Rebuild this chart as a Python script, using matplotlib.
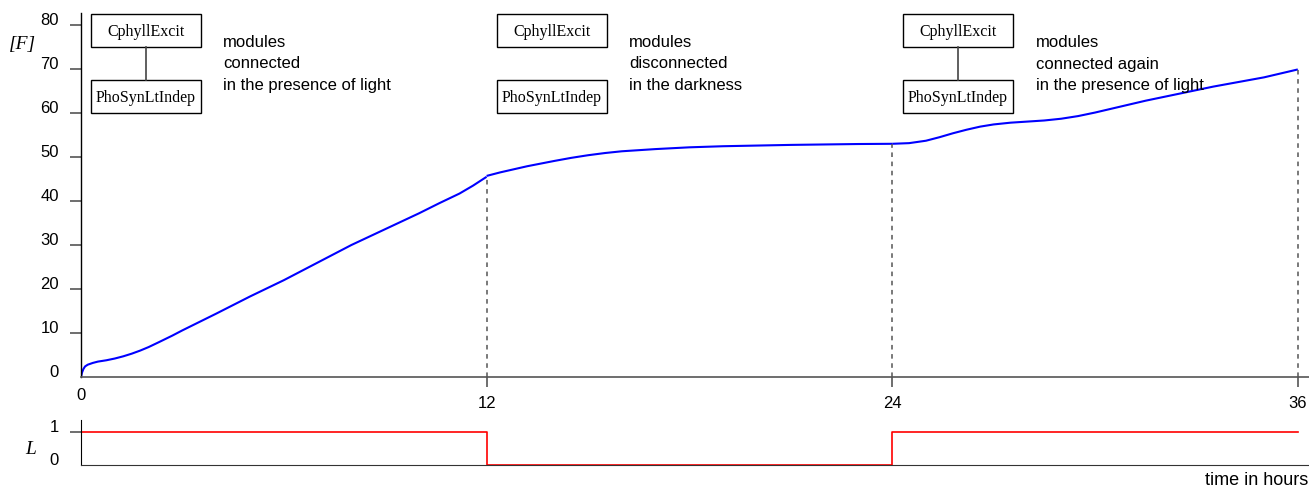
import matplotlib
matplotlib.use("Agg")
import matplotlib.pyplot as plt
from matplotlib.patches import Rectangle
from matplotlib.lines import Line2D

# --- data ---
seg1_t = [0, 0.03, 0.07, 0.12, 0.2, 0.35, 0.5, 0.75, 1.0, 1.25, 1.5, 1.75, 2.0, 2.3, 2.7,
          3.0, 3.5, 4.0, 5.0, 6.0, 7.0, 8.0, 9.0, 10.0, 10.6, 11.2, 11.6, 12.0]
seg1_v = [0, 1.0, 1.8, 2.4, 2.8, 3.2, 3.5, 3.8, 4.2, 4.7, 5.3, 6.0, 6.8, 7.9, 9.4,
          10.6, 12.5, 14.4, 18.3, 22.0, 26.0, 30.0, 33.6, 37.2, 39.5, 41.7, 43.5, 45.5]
seg2_t = [12, 12.4, 12.8, 13.2, 13.6, 14.0, 14.5, 15.0, 15.5, 16.0, 17.0, 18.0, 19.0,
          20.0, 21.0, 22.0, 23.0, 24.0]
seg2_v = [45.7, 46.5, 47.2, 47.9, 48.5, 49.1, 49.8, 50.4, 50.9, 51.3, 51.8, 52.2, 52.45,
          52.6, 52.75, 52.85, 52.95, 53.0]
seg3_t = [24, 24.5, 25.0, 25.4, 25.8, 26.2, 26.6, 27.0, 27.5, 28.0, 28.5, 29.0, 29.5,
          30.0, 30.5, 31.0, 31.5, 32.0, 32.5, 33.0, 33.5, 34.0, 34.5, 35.0, 35.5, 36.0]
seg3_v = [53.0, 53.15, 53.7, 54.5, 55.4, 56.2, 56.9, 57.4, 57.8, 58.05, 58.3, 58.7, 59.3,
          60.1, 61.0, 61.9, 62.8, 63.6, 64.4, 65.2, 66.0, 66.7, 67.4, 68.1, 69.0, 69.9]

light_t = [0, 12, 24, 36]
light_v = [1, 0, 1, 1]

switch_t = [12, 24, 36]
switch_v = [45.5, 53.0, 69.9]

x_major = [12, 24, 36]
y_major = [10, 20, 30, 40, 50, 60, 70, 80]

box_top = "CphyllExcit"
box_bottom = "PhoSynLtIndep"
box_left_px = [91, 497, 903]
box_linked = [True, False, True]
notes = [["modules", "connected", "in the presence of light"],
         ["modules", "disconnected", "in the darkness"],
         ["modules", "connected again", "in the presence of light"]]
note_left_px = [223, 629, 1036]

W, H = 1309, 488
fig = plt.figure(figsize=(W / 100, H / 100), dpi=100)

SANS = "Liberation Sans"
SERIF = "Liberation Serif"
plt.rcParams["font.family"] = SANS
spine_c = "#555555"


def fx(px):
    return px / W


def fy(py):
    return 1 - py / H


xmax = (W - 81) / 33.8
ax = fig.add_axes([fx(81), fy(377), 1 - fx(81), fy(13) - fy(377)])
ax2 = fig.add_axes([fx(81), fy(465), 1 - fx(81), fy(420) - fy(465)])

# --- top panel ---
for t, v in ((seg1_t, seg1_v), (seg2_t, seg2_v), (seg3_t, seg3_v)):
    ax.plot(t, v, color="#0000ff", lw=1.5, solid_capstyle="butt")
ax.vlines(switch_t, 0, switch_v, colors="#555555", linestyles=(0, (3, 3)), lw=1.1)

ax.set_xlim(0, xmax)
ax.set_ylim(0, (377 - 13) / 4.4)
for s in ("top", "right"):
    ax.spines[s].set_visible(False)
ax.spines["left"].set_color("black")
ax.spines["bottom"].set_color(spine_c)
ax.spines["left"].set_linewidth(1.0)
ax.spines["bottom"].set_linewidth(1.2)

ax.set_xticks(x_major)
ax.set_xticklabels([str(v) for v in x_major])
ax.set_xticks([0], minor=True)
ax.set_xticklabels(["0"], minor=True)
ax.tick_params(axis="x", which="major", length=7.5, width=1.2, color=spine_c, pad=6, labelsize=12)
ax.tick_params(axis="x", which="minor", length=0, pad=8, labelsize=12)

ax.set_yticks(y_major)
ax.set_yticklabels([str(v) for v in y_major])
ax.set_yticks([0], minor=True)
ax.set_yticklabels(["0"], minor=True)
ax.tick_params(axis="y", which="major", length=8, width=1.2, color=spine_c, pad=8, labelsize=12)
ax.tick_params(axis="y", which="minor", length=0, pad=16, labelsize=12)
for lab in ax.get_yticklabels(which="both"):
    lab.set_verticalalignment("baseline")

# --- bottom panel (light) ---
ax2.step(light_t, light_v, where="post", color="#ff0000", lw=1.2)
ax2.set_xlim(0, xmax)
ax2.set_ylim(0, (465 - 420) / 33.0)
for s in ("top", "right"):
    ax2.spines[s].set_visible(False)
ax2.spines["left"].set_color("black")
ax2.spines["bottom"].set_color("#333333")
ax2.set_xticks([])
ax2.set_yticks([1])
ax2.set_yticklabels(["1"])
ax2.set_yticks([0], minor=True)
ax2.set_yticklabels(["0"], minor=True)
ax2.tick_params(axis="y", which="major", length=8, width=1.2, color=spine_c, pad=8, labelsize=12)
ax2.tick_params(axis="y", which="minor", length=0, pad=16, labelsize=12)
for lab in ax2.get_yticklabels(which="both"):
    lab.set_verticalalignment("baseline")

# --- axis names ---
fig.text(fx(22), fy(44), "[F]", family=SERIF, style="italic", fontsize=14, va="center", ha="center")
fig.text(fx(31), fy(449), "L", family=SERIF, style="italic", fontsize=14, va="center", ha="center")
fig.text(fx(1308), fy(485), "time in hours", fontsize=13, ha="right", va="baseline")

# --- module boxes and notes ---
bw, bh = 110, 33
for left, linked, lines, nx in zip(box_left_px, box_linked, notes, note_left_px):
    for top, label in ((14, box_top), (80, box_bottom)):
        fig.add_artist(Rectangle((fx(left), fy(top + bh)), bw / W, bh / H,
                                 transform=fig.transFigure, fill=False,
                                 edgecolor="black", lw=1.0))
        fig.text(fx(left + bw / 2), fy(top + bh / 2 + 1), label, family=SERIF,
                 fontsize=11.5, ha="center", va="center")
    if linked:
        fig.add_artist(Line2D([fx(left + bw / 2)] * 2, [fy(47), fy(80)],
                              transform=fig.transFigure, color="#444444", lw=1.2))
    for base, line in zip((47, 68.5, 90), lines):
        fig.text(fx(nx), fy(base), line, fontsize=12, ha="left", va="baseline")

fig.savefig("out.png", dpi=100)
